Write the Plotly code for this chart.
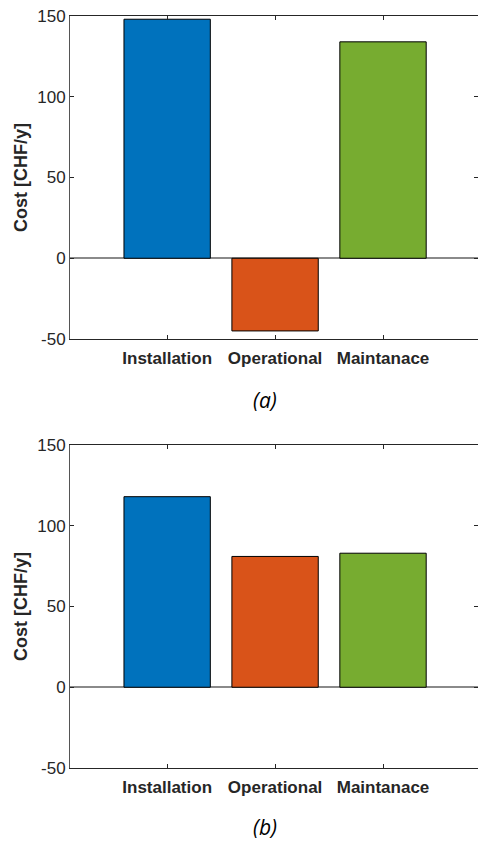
import plotly.graph_objects as go

categories = ["Installation", "Operational", "Maintanace"]
values_a = [148, -45, 134]
values_b = [118, 81, 83]
colors = ["#0072BD", "#D95319", "#77AC30"]
y_ticks = [-50, 0, 50, 100, 150]
y_ticktext = ["-50", "0", "50", "100", "150"]
panel_labels = ["(a)", "(b)"]

W, H = 478, 842
L, R, T, B = 70, 0, 16, 74
ph = H - T - B

fig = go.Figure()

fig.add_trace(go.Bar(x=categories, y=values_a, marker=dict(color=colors, line=dict(color="black", width=1)),
                     width=0.8, xaxis="x", yaxis="y", showlegend=False))
fig.add_trace(go.Bar(x=categories, y=values_b, marker=dict(color=colors, line=dict(color="black", width=1)),
                     width=0.8, xaxis="x2", yaxis="y2", showlegend=False))

top_dom = [(H - B - 339) / ph, 1.0]
bot_dom = [0.0, (H - B - 445) / ph]

xcommon = dict(type="category", range=[-0.9, 2.88], showline=True, linecolor="#262626", linewidth=1,
               mirror="ticks", ticks="inside", ticklen=4, tickcolor="#262626",
               tickfont=dict(family="Liberation Sans, Arial", size=17, color="#262626", weight="bold"),
               showgrid=False, zeroline=False, ticklabelstandoff=4)
ycommon = dict(range=[-50, 150], tickvals=y_ticks, ticktext=y_ticktext, showline=True, linecolor="#555555",
               linewidth=1, mirror="ticks", ticks="inside", ticklen=4, tickcolor="#262626",
               tickfont=dict(family="Liberation Sans, Arial", size=17, color="#262626"),
               showgrid=False, zeroline=True, zerolinecolor="#8a8a8a", zerolinewidth=1.5,
               title=dict(text="<b>Cost [CHF/y]</b>", font=dict(family="Liberation Sans, Arial", size=18, color="#262626"),
                          standoff=4))

fig.update_layout(
    width=W, height=H, margin=dict(l=L, r=R, t=T, b=B),
    paper_bgcolor="white", plot_bgcolor="white",
    xaxis=dict(domain=[0, 1], anchor="y", **xcommon),
    yaxis=dict(domain=top_dom, anchor="x", **ycommon),
    xaxis2=dict(domain=[0, 1], anchor="y2", **xcommon),
    yaxis2=dict(domain=bot_dom, anchor="x2", **ycommon),
    bargap=0.2,
)

lab_x = (265 - L) / (W - L - R)
for lab, ypix in zip(panel_labels, [400, 827]):
    fig.add_annotation(text=f"<i>{lab}</i>", x=lab_x, y=(H - B - ypix) / ph, xref="paper", yref="paper",
                       showarrow=False, xanchor="center", yanchor="middle",
                       font=dict(family="Open Sans", size=21, color="black"))

fig.write_html("out.html", config={"displayModeBar": False},
               post_script="document.body.style.margin='0';document.body.style.overflow='hidden';")
